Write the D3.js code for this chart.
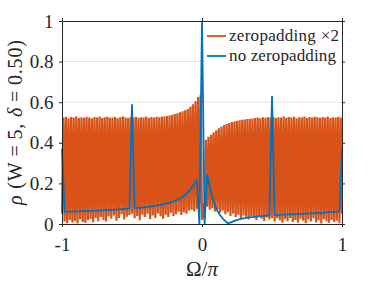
<!DOCTYPE html>
<html>
<head>
<meta charset="utf-8">
<script src="https://cdn.jsdelivr.net/npm/d3@7"></script>
<style>
  html, body { margin: 0; padding: 0; background: #fff; }
  svg { display: block; }
</style>
</head>
<body>
<div class="container"></div>
<script>
// no zeropadding: 109 bins on [-1, 1], step 2/108
const blueVals = [
  0.37,
  0.060, 0.060, 0.061, 0.061, 0.062, 0.062, 0.063, 0.063, 0.064, 0.064,
  0.065, 0.065, 0.066, 0.066, 0.067, 0.068, 0.068, 0.069, 0.070, 0.070,
  0.071, 0.072, 0.073, 0.074, 0.075, 0.076,
  0.59,
  0.078, 0.079, 0.080, 0.081, 0.083, 0.084, 0.086, 0.088, 0.090, 0.092,
  0.094, 0.097, 0.100, 0.103, 0.107, 0.111, 0.116, 0.122, 0.129, 0.138,
  0.149, 0.162, 0.178, 0.197, 0.218,
  0.0, 1.0, 0.0,
  0.245, 0.180, 0.130, 0.092, 0.064, 0.043, 0.027, 0.014, 0.004, 0.007,
  0.013, 0.018, 0.022, 0.025, 0.028, 0.030, 0.032, 0.034, 0.035, 0.037,
  0.038, 0.039, 0.040, 0.041, 0.042,
  0.63,
  0.044, 0.044, 0.045, 0.046, 0.046, 0.047, 0.047, 0.048, 0.048, 0.049,
  0.050, 0.050, 0.051, 0.052, 0.052, 0.053, 0.054, 0.055, 0.055, 0.056,
  0.057, 0.058, 0.059, 0.060, 0.061, 0.062,
  0.37
];

// zeropadding x2: even bins (lows) and odd bins (highs), 217 bins in total
const orangeLow = [
  0.05,
  0.012, 0.004, 0.020, 0.008, 0.015, 0.003, 0.022, 0.010, 0.006, 0.018,
  0.025, 0.009, 0.030, 0.014, 0.035, 0.020, 0.012, 0.038, 0.026, 0.042,
  0.016, 0.030, 0.048, 0.022, 0.036, 0.045,
  0.05,
  0.028, 0.040, 0.018, 0.046, 0.034, 0.050, 0.024, 0.042, 0.030, 0.052,
  0.038, 0.026, 0.046, 0.034, 0.055, 0.040, 0.048, 0.060, 0.044, 0.058,
  0.050, 0.066, 0.070, 0.062, 0.075,
  0.10, 0.02, 0.03, 0.085,
  0.070, 0.078, 0.062, 0.072, 0.055, 0.066, 0.048, 0.058, 0.040, 0.052,
  0.034, 0.046, 0.028, 0.042, 0.036, 0.024, 0.040, 0.030, 0.020, 0.035,
  0.026, 0.015, 0.032, 0.022,
  0.03,
  0.012, 0.028, 0.018, 0.008, 0.024, 0.014, 0.030, 0.010, 0.020, 0.006,
  0.026, 0.016, 0.004, 0.022, 0.012, 0.028, 0.008, 0.018, 0.003, 0.024,
  0.014, 0.006, 0.020, 0.010, 0.016, 0.004,
  0.05
];
const orangeHigh = [
  0.524, 0.528, 0.521, 0.527, 0.525, 0.529, 0.522, 0.526, 0.523, 0.528,
  0.525, 0.521, 0.527, 0.524, 0.529, 0.522, 0.526, 0.528, 0.523, 0.525,
  0.527, 0.521, 0.526, 0.529, 0.524, 0.522, 0.527, 0.525, 0.528, 0.523,
  0.526, 0.524, 0.529, 0.522, 0.527, 0.525, 0.528, 0.526, 0.529, 0.530,
  0.532, 0.535, 0.538, 0.542, 0.546, 0.550, 0.555, 0.560, 0.566, 0.578,
  0.590, 0.605, 0.625, 0.637,
  0.10, 0.415, 0.430, 0.440, 0.452, 0.462, 0.472, 0.480, 0.487, 0.493,
  0.498, 0.502, 0.505, 0.508, 0.511, 0.513, 0.515, 0.517, 0.518, 0.520,
  0.522, 0.525, 0.521, 0.526, 0.523, 0.527, 0.524, 0.528, 0.522, 0.526,
  0.525, 0.529, 0.523, 0.527, 0.524, 0.528, 0.521, 0.526, 0.525, 0.529,
  0.522, 0.527, 0.524, 0.528, 0.526, 0.523, 0.527, 0.525, 0.529, 0.522,
  0.526, 0.524, 0.528, 0.525
];

const xTicks = [-1, 0, 1];
const yTicks = [0, 0.2, 0.4, 0.6, 0.8, 1];
const gridTicks = [0.2, 0.4, 0.6, 0.8];
const legendLabels = ["zeropadding \u00d72", "no zeropadding"];

if (blueVals.length !== 109 || orangeLow.length !== 109 || orangeHigh.length !== 108) {
  throw new Error("lengths " + blueVals.length + " " + orangeLow.length + " " + orangeHigh.length);
}

const W = 378, H = 284;
const mLeft = 62, mRight = 342, mTop = 21, mBottom = 224;
const colOrange = "#D95319", colBlue = "#0072BD", axisCol = "#262626";
const serif = "'Liberation Serif', 'DejaVu Serif', serif";

// bin positions
const blueData = blueVals.map((v, k) => ({ x: -1 + k * 2 / 108, y: v }));
const orangeData = [];
orangeLow.forEach((v, m) => {
  orangeData.push({ x: -1 + m * 2 / 108, y: v });
  if (m < orangeHigh.length) orangeData.push({ x: -1 + (2 * m + 1) / 108, y: orangeHigh[m] });
});

const x = d3.scaleLinear().domain([-1, 1]).range([mLeft, mRight]);
const y = d3.scaleLinear().domain([0, 1]).range([mBottom, mTop]);

const svg = d3.select(".container")
  .append("svg")
  .attr("width", W)
  .attr("height", H)
  .attr("viewBox", [0, 0, W, H])
  .attr("font-family", serif);

// grid
svg.append("g")
  .selectAll("line")
  .data(gridTicks)
  .join("line")
  .attr("x1", mLeft).attr("x2", mRight)
  .attr("y1", d => y(d)).attr("y2", d => y(d))
  .attr("stroke", "#e3e3e3")
  .attr("stroke-width", 1);

const line = d3.line().x(d => x(d.x)).y(d => y(d.y));

svg.append("path")
  .datum(orangeData)
  .attr("d", line)
  .attr("fill", "none")
  .attr("stroke", colOrange)
  .attr("stroke-width", 2.2)
  .attr("stroke-linejoin", "bevel");

svg.append("path")
  .datum(blueData)
  .attr("d", line)
  .attr("fill", "none")
  .attr("stroke", colBlue)
  .attr("stroke-width", 1.8)
  .attr("stroke-linejoin", "bevel");

// legend
const lg = svg.append("g");
lg.append("rect")
  .attr("x", 205).attr("y", 23).attr("width", 134).attr("height", 46)
  .attr("fill", "#fff");
lg.selectAll("line")
  .data([colOrange, colBlue])
  .join("line")
  .attr("x1", 207).attr("x2", 226)
  .attr("y1", (d, i) => 36 + i * 20).attr("y2", (d, i) => 36 + i * 20)
  .attr("stroke", d => d)
  .attr("stroke-width", 1.8);
lg.selectAll("text")
  .data(legendLabels)
  .join("text")
  .attr("x", 229)
  .attr("y", (d, i) => 41 + i * 20)
  .attr("font-family", serif)
  .attr("font-size", 17)
  .attr("fill", axisCol)
  .attr("textLength", (d, i) => i === 0 ? 110 : 107)
  .text(d => d);

// axes
function styleAxis(g) {
  g.attr("font-family", serif);
  g.selectAll("path").attr("stroke", axisCol);
  g.selectAll("line").attr("stroke", axisCol);
  g.selectAll("text").attr("fill", axisCol).attr("font-size", 19).attr("font-family", serif);
}

svg.append("g")
  .attr("transform", `translate(0,${mBottom})`)
  .call(d3.axisBottom(x).tickValues(xTicks).tickSize(3).tickSizeOuter(0).tickPadding(10.5)
    .tickFormat(d => d < 0 ? "-" + Math.abs(d) : String(d)))
  .call(styleAxis);
svg.append("g")
  .attr("transform", `translate(0,${mTop})`)
  .call(d3.axisTop(x).tickValues(xTicks).tickSize(3).tickSizeOuter(0).tickFormat(""))
  .call(styleAxis);
svg.append("g")
  .attr("transform", `translate(${mLeft},0)`)
  .call(d3.axisLeft(y).tickValues(yTicks).tickSize(3).tickSizeOuter(0).tickPadding(5.5)
    .tickFormat(d => String(d)))
  .call(styleAxis);
svg.append("g")
  .attr("transform", `translate(${mRight},0)`)
  .call(d3.axisRight(y).tickValues(yTicks).tickSize(3).tickSizeOuter(0).tickFormat(""))
  .call(styleAxis);

// axis labels
const xl = svg.append("text")
  .attr("x", (mLeft + mRight) / 2)
  .attr("y", 276)
  .attr("text-anchor", "middle")
  .attr("font-family", serif)
  .attr("fill", axisCol)
  .attr("font-size", 21);
xl.append("tspan").text("\u03a9/");
xl.append("tspan").attr("font-style", "italic").text("\u03c0");

const yl = svg.append("text")
  .attr("transform", `translate(22,${(mTop + mBottom) / 2}) rotate(-90)`)
  .attr("text-anchor", "middle")
  .attr("font-family", serif)
  .attr("fill", axisCol)
  .attr("font-size", 20)
  .attr("textLength", 165);
yl.append("tspan").attr("font-style", "italic").text("\u03c1");
yl.append("tspan").text(" (W\u2009=\u20095, ");
yl.append("tspan").attr("font-style", "italic").text("\u03b4");
yl.append("tspan").text("\u2009=\u20090.50)");
</script>
</body>
</html>
